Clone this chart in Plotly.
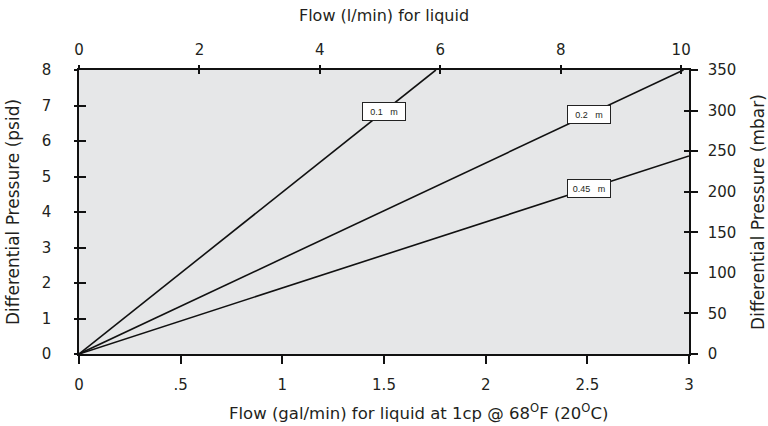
import plotly.graph_objects as go

# ---- data ----
series_names = ["0.1   m", "0.2   m", "0.45   m"]
end_flow_gpm = [1.755, 2.973, 3.0]      # gal/min at line end
end_dp_psid = [8.0, 8.0, 5.58]          # psid at line end
label_flow_gpm = [1.5, 2.51, 2.51]      # where each label box sits on its line

gpm_ticks = [0, 0.5, 1, 1.5, 2, 2.5, 3]
gpm_ticktext = ["0", ".5", "1", "1.5", "2", "2.5", "3"]
lpm_ticks = [0, 2, 4, 6, 8, 10]
psid_ticks = [0, 1, 2, 3, 4, 5, 6, 7, 8]
mbar_ticks = [0, 50, 100, 150, 200, 250, 300, 350]

FONT = "DejaVu Sans, Liberation Sans, Arial, sans-serif"
LFONT = "Liberation Sans, Arial, sans-serif"
TXT = "#231f20"

fig = go.Figure()
for name, xe, ye in zip(series_names, end_flow_gpm, end_dp_psid):
    fig.add_trace(go.Scatter(x=[0, xe], y=[0, ye], mode="lines", name=name,
                             line=dict(color="#111111", width=1.6),
                             xaxis="x", yaxis="y", showlegend=False))

# dummy traces so the overlay axes render
fig.add_trace(go.Scatter(x=[None], y=[None], xaxis="x2", yaxis="y2", showlegend=False))
fig.add_trace(go.Scatter(x=[None], y=[None], xaxis="x3", yaxis="y3", showlegend=False))
fig.add_trace(go.Scatter(x=[None], y=[None], xaxis="x", yaxis="y4", showlegend=False))

for name, xe, ye, xl in zip(series_names, end_flow_gpm, end_dp_psid, label_flow_gpm):
    yl = ye * xl / xe
    fig.add_annotation(x=xl, y=yl, xref="x", yref="y", text=name, showarrow=False,
                       font=dict(family=LFONT, size=9, color=TXT),
                       bgcolor="white", bordercolor="#222", borderwidth=1,
                       width=40, height=15, align="center", borderpad=1)

# bottom axis title (sits a little right of centre in the original)
fig.add_annotation(x=0.557, y=-0.203, xref="paper", yref="paper",
                   text="Flow (gal/min) for liquid at 1cp @ 68<sup>O</sup>F (20<sup>O</sup>C)",
                   showarrow=False, xanchor="center", yanchor="middle",
                   font=dict(family=FONT, size=16.5, color=TXT))

tickfont = dict(family=FONT, size=15, color=TXT)
titlefont = dict(family=FONT, size=16, color=TXT)
ytitlefont = dict(family=FONT, size=17, color=TXT)
axcommon = dict(showgrid=False, zeroline=False, showline=True, linecolor="#111",
                linewidth=1.5, tickcolor="#111", tickwidth=1.5, fixedrange=True)

fig.update_layout(
    width=768, height=426,
    margin=dict(l=78.5, r=78.5, t=70, b=72, autoexpand=False),
    paper_bgcolor="white", plot_bgcolor="#e6e7e8",
    font=dict(family=FONT, color=TXT),
    xaxis=dict(range=[0, 3], tickvals=gpm_ticks, ticktext=gpm_ticktext,
               ticks="outside", ticklen=8, tickfont=tickfont,
               ticklabelstandoff=8, **axcommon),
    xaxis2=dict(range=[0, 10.13], overlaying="x", side="top", anchor="y",
                tickvals=lpm_ticks, ticks="outside", ticklen=3, tickfont=tickfont,
                ticklabelstandoff=4,
                title=dict(text="Flow (l/min) for liquid", font=titlefont, standoff=16),
                **axcommon),
    xaxis3=dict(range=[0, 10.13], overlaying="x", side="top", anchor="y",
                tickvals=lpm_ticks, ticks="inside", ticklen=4, showticklabels=False,
                **axcommon),
    yaxis=dict(range=[0, 8], tickvals=psid_ticks, ticks="outside", ticklen=3,
               tickfont=tickfont, ticklabelstandoff=20,
               title=dict(text="Differential Pressure (psid)", font=ytitlefont, standoff=18),
               **axcommon),
    yaxis2=dict(range=[0, 350], overlaying="y", side="right", anchor="x",
                tickvals=mbar_ticks, ticks="outside", ticklen=7, tickfont=tickfont,
                ticklabelstandoff=7,
                title=dict(text="Differential Pressure (mbar)", font=ytitlefont, standoff=23),
                **axcommon),
    yaxis3=dict(range=[0, 8], overlaying="y", side="left", anchor="x",
                tickvals=psid_ticks[1:-1], ticks="inside", ticklen=7, showticklabels=False,
                **axcommon),
    yaxis4=dict(range=[0, 350], overlaying="y", side="right", anchor="x",
                tickvals=mbar_ticks[1:-1], ticks="inside", ticklen=5, showticklabels=False,
                **axcommon),
)

fig.write_html("out.html", config={"displayModeBar": False},
               post_script="document.body.style.margin='0';document.body.style.overflow='hidden';")
